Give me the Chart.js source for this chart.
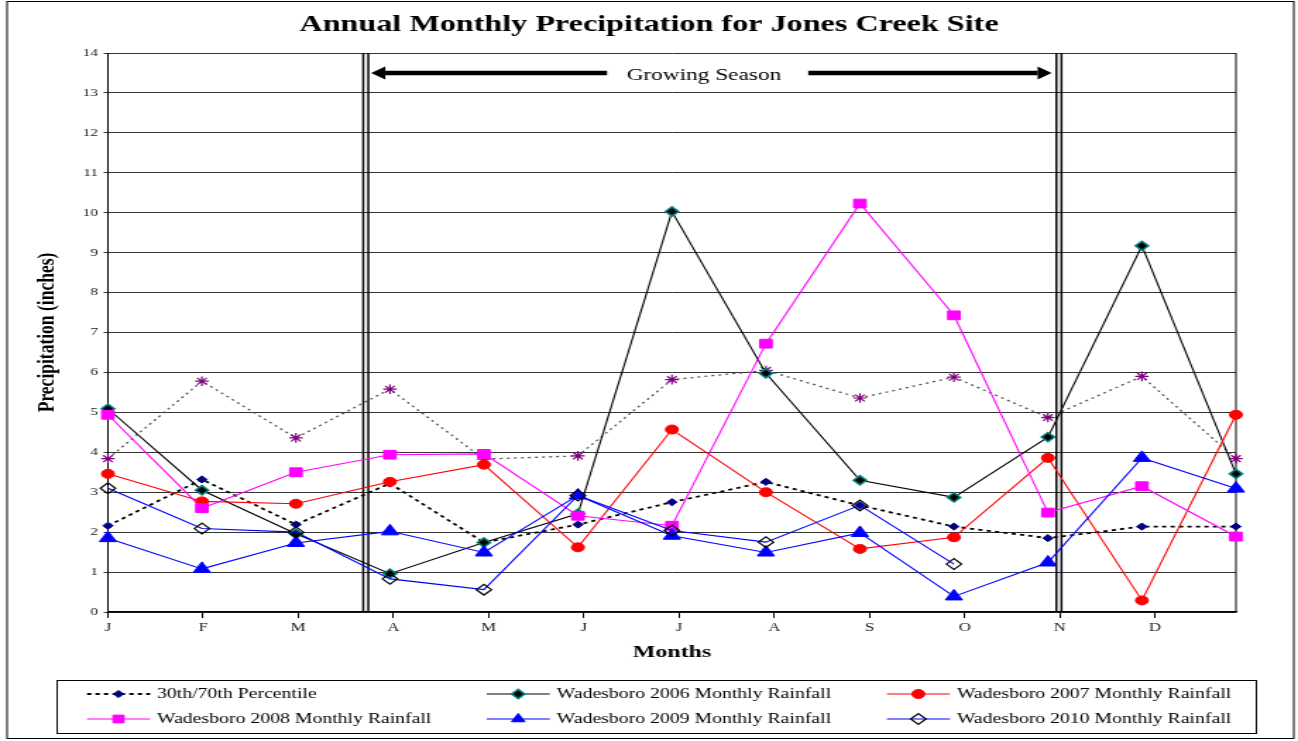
<!DOCTYPE html>
<html>
<head>
<meta charset="utf-8">
<title>Annual Monthly Precipitation for Jones Creek Site</title>
<script src="https://cdn.jsdelivr.net/npm/chart.js@4.4.1/dist/chart.umd.min.js"></script>
<style>
  html, body { margin: 0; padding: 0; background: #fff; }
  #graph { display: block; }
</style>
</head>
<body>
<!-- drawn on a narrow canvas and stretched sideways by css -->
<canvas id="graph" width="920" height="741" style="width:1298px;height:741px"></canvas>
<script>
// 13 points: Jan..Dec plus the closing point at the right edge
var pointLabels = ["J","F","M","A","M","J","J","A","S","O","N","D",""];
var monthTicks = ["J","F","M","A","M","J","J","A","S","O","N","D"];

var pct30 = [2.16, 3.32, 2.19, 3.22, 1.74, 2.19, 2.75, 3.26, 2.67, 2.14, 1.85, 2.14, 2.14];
var pct70 = [3.84, 5.78, 4.36, 5.58, 3.83, 3.91, 5.82, 6.05, 5.36, 5.88, 4.87, 5.90, 3.84];
var rain2006 = [5.09, 3.05, 1.96, 0.96, 1.74, 2.46, 10.03, 5.98, 3.30, 2.87, 4.38, 9.17, 3.46];
var rain2007 = [3.46, 2.77, 2.71, 3.26, 3.69, 1.62, 4.57, 3.00, 1.58, 1.87, 3.86, 0.29, 4.94];
var rain2008 = [4.94, 2.60, 3.50, 3.94, 3.96, 2.41, 2.16, 6.72, 10.23, 7.43, 2.49, 3.15, 1.89];
var rain2009 = [1.85, 1.08, 1.73, 2.02, 1.49, 2.92, 1.91, 1.49, 1.98, 0.39, 1.24, 3.86, 3.09];
var rain2010 = [3.10, 2.09, 2.00, 0.83, 0.56, 2.92, 2.04, 1.75, 2.67, 1.20, null, null, null];

var serif = '"Liberation Serif", "Times New Roman", serif';

// growing season boundaries (double lines), in point index units
var seasonStart = 2.743, seasonEnd = 10.117;

function arrow(ctx, fromX, toX, y) {
  var dir = toX > fromX ? 1 : -1;
  var head = 10;
  ctx.lineWidth = 4.5;
  ctx.beginPath();
  ctx.moveTo(fromX, y);
  ctx.lineTo(toX - dir * head, y);
  ctx.stroke();
  ctx.beginPath();
  ctx.moveTo(toX, y);
  ctx.lineTo(toX - dir * head, y - 6.5);
  ctx.lineTo(toX - dir * head, y + 6.5);
  ctx.closePath();
  ctx.fill();
}

var seasonPlugin = {
  id: 'seasonMarks',
  beforeDatasetsDraw: function(chart) {
    var ctx = chart.ctx, xs = chart.scales.x, ys = chart.scales.y, area = chart.chartArea;
    ctx.save();
    ctx.strokeStyle = '#000';
    ctx.fillStyle = '#000';
    // right edge of the plot
    ctx.lineWidth = 1;
    ctx.beginPath();
    ctx.moveTo(area.right, area.top);
    ctx.lineTo(area.right, area.bottom);
    ctx.stroke();
    // double lines
    ctx.lineWidth = 1.5;
    [seasonStart, seasonEnd].forEach(function(v) {
      var px = xs.getPixelForValue(v);
      [-1.8, 1.8].forEach(function(d) {
        ctx.beginPath();
        ctx.moveTo(px + d, area.top);
        ctx.lineTo(px + d, area.bottom);
        ctx.stroke();
      });
    });
    // arrows and label
    var ay = ys.getPixelForValue(13.5);
    arrow(ctx, xs.getPixelForValue(5.31), xs.getPixelForValue(2.80), ay);
    arrow(ctx, xs.getPixelForValue(7.45), xs.getPixelForValue(10.04), ay);
    ctx.font = '16.5px ' + serif;
    ctx.textAlign = 'center';
    ctx.textBaseline = 'middle';
    ctx.fillText('Growing Season', xs.getPixelForValue(6.34), ys.getPixelForValue(13.42));
    ctx.restore();
  },
  afterDraw: function(chart) {
    var ctx = chart.ctx;
    ctx.save();
    // title
    ctx.fillStyle = '#000';
    ctx.font = 'bold 22.8px ' + serif;
    ctx.textAlign = 'center';
    ctx.textBaseline = 'middle';
    ctx.fillText('Annual Monthly Precipitation for Jones Creek Site', 460, 25);
    // outer frame
    ctx.strokeStyle = '#000';
    ctx.lineWidth = 1;
    ctx.strokeRect(5, 1.5, 912, 737);
    // legend
    ctx.strokeRect(40.5, 680.5, 850, 53);
    var cols = [61.7, 345, 628.6], rows = [694, 719];
    var shown = [0, 2, 3, 4, 5, 6];
    shown.forEach(function(idx, i) {
      var ds = chart.data.datasets[idx];
      var x = cols[i % 3], y = rows[Math.floor(i / 3)];
      ctx.strokeStyle = ds.borderColor;
      ctx.lineWidth = ds.borderWidth;
      ctx.setLineDash(ds.borderDash || []);
      ctx.beginPath();
      ctx.moveTo(x, y);
      ctx.lineTo(x + 44.7, y);
      ctx.stroke();
      ctx.setLineDash([]);
      ctx.fillStyle = ds.pointBackgroundColor;
      ctx.strokeStyle = ds.pointBorderColor;
      ctx.lineWidth = ds.pointBorderWidth;
      if (Chart.helpers && Chart.helpers.drawPoint) {
        Chart.helpers.drawPoint(ctx, {
          pointStyle: ds.pointStyle,
          radius: Math.min(ds.pointRadius, 5.5),
          rotation: 0,
          borderWidth: ds.pointBorderWidth
        }, x + 22.3, y);
      }
      ctx.fillStyle = '#000';
      ctx.font = '14px ' + serif;
      ctx.textAlign = 'left';
      ctx.textBaseline = 'middle';
      ctx.fillText(ds.label, x + 49.6, y);
    });
    ctx.restore();
  }
};

new Chart('graph', {
  type: 'line',
  data: {
    labels: pointLabels,
    datasets: [
      {
        label: '30th/70th Percentile', data: pct30, order: 5,
        borderColor: '#000', borderWidth: 1.8, borderDash: [3, 3],
        pointStyle: 'rectRot', pointRadius: 3.6,
        pointBackgroundColor: '#000080', pointBorderColor: '#000080', pointBorderWidth: 1
      },
      {
        label: '70th Percentile', data: pct70, order: 6,
        borderColor: '#555', borderWidth: 1.3, borderDash: [2, 3],
        pointStyle: 'star', pointRadius: 4.8,
        pointBackgroundColor: '#800080', pointBorderColor: '#800080', pointBorderWidth: 1.2
      },
      {
        label: 'Wadesboro 2006 Monthly Rainfall', data: rain2006, order: 4,
        borderColor: '#000', borderWidth: 1.1,
        pointStyle: 'rectRot', pointRadius: 4.6,
        pointBackgroundColor: '#000', pointBorderColor: '#008080', pointBorderWidth: 1.5
      },
      {
        label: 'Wadesboro 2007 Monthly Rainfall', data: rain2007, order: 3,
        borderColor: '#ff0000', borderWidth: 1.1,
        pointStyle: 'circle', pointRadius: 4.5,
        pointBackgroundColor: '#ff0000', pointBorderColor: '#ff0000', pointBorderWidth: 1
      },
      {
        label: 'Wadesboro 2008 Monthly Rainfall', data: rain2008, order: 2,
        borderColor: '#ff00ff', borderWidth: 1.1,
        pointStyle: 'rect', pointRadius: 6.2,
        pointBackgroundColor: '#ff00ff', pointBorderColor: '#ff00ff', pointBorderWidth: 1
      },
      {
        label: 'Wadesboro 2009 Monthly Rainfall', data: rain2009, order: 1,
        borderColor: '#0000ff', borderWidth: 1.1,
        pointStyle: 'triangle', pointRadius: 7,
        pointBackgroundColor: '#0000ff', pointBorderColor: '#0000ff', pointBorderWidth: 1
      },
      {
        label: 'Wadesboro 2010 Monthly Rainfall', data: rain2010, order: 0,
        borderColor: '#0000ff', borderWidth: 1.1,
        pointStyle: 'rectRot', pointRadius: 5.4,
        pointBackgroundColor: 'rgba(255,255,255,0)', pointBorderColor: '#000', pointBorderWidth: 1.2
      }
    ]
  },
  options: {
    responsive: false,
    devicePixelRatio: 1,
    animation: false,
    spanGaps: false,
    elements: { line: { tension: 0 } },
    layout: { padding: { top: 53, right: 44, bottom: 78, left: 0 } },
    plugins: {
      legend: { display: false },
      title: { display: false },
      tooltip: { enabled: false }
    },
    scales: {
      x: { type: 'category', display: false, offset: false },
      xm: {
        type: 'linear', position: 'bottom', min: 0, max: 11.85,
        afterFit: function(s) { s.height = 51; },
        ticks: {
          stepSize: 1, includeBounds: false, autoSkip: false, maxRotation: 0, padding: 3,
          color: '#222', font: { family: serif, size: 12 },
          callback: function(v) { return monthTicks[v] || ''; }
        },
        grid: { drawOnChartArea: false, drawTicks: true, tickLength: 6, color: '#000' },
        border: { color: '#000', width: 1.5 },
        title: { display: true, text: 'Months', color: '#000', padding: 0,
                 font: { family: serif, size: 17, weight: 'bold' } }
      },
      y: {
        min: 0, max: 14,
        afterFit: function(s) { s.width = 76.5; },
        ticks: { stepSize: 1, padding: 4, color: '#222', font: { family: serif, size: 11 } },
        grid: { color: '#333', lineWidth: 1, tickLength: 3 },
        border: { color: '#000', width: 1 },
        title: { display: true, text: 'Precipitation (inches)', color: '#000',
                 padding: { top: 23, bottom: 0 },
                 font: { family: serif, size: 17.5, weight: 'bold' } }
      }
    }
  },
  plugins: [seasonPlugin]
});
</script>
</body>
</html>
